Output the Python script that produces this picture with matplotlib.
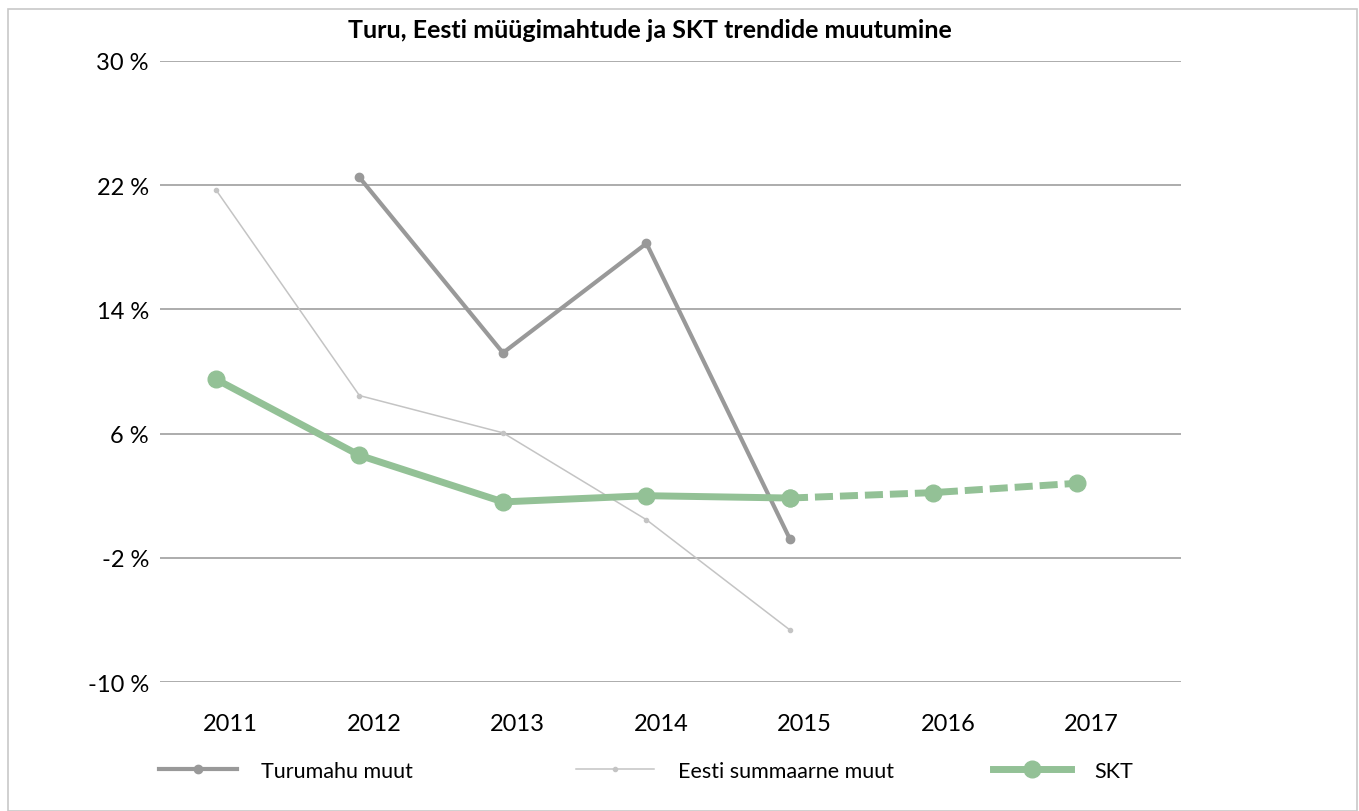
import numpy as np
import matplotlib
matplotlib.use('Agg')
from matplotlib import pyplot as plt
from matplotlib.patches import Rectangle

plt.rcParams['font.family'] = ['Lato', 'DejaVu Sans']

years = ['2011', '2012', '2013', '2014', '2015', '2016', '2017']
turumahu = [np.nan, 22.5, 11.2, 18.25, -0.8, np.nan, np.nan]
eesti = [21.7, 8.45, 6.05, 0.45, -6.65, np.nan, np.nan]
skt_actual = [9.5, 4.6, 1.6, 2.0, 1.85, np.nan, np.nan]
skt_forecast = [np.nan, np.nan, np.nan, np.nan, 1.85, 2.2, 2.8]
yticks = [-10, -2, 6, 14, 22, 30]

x = np.arange(len(years))
green = '#93c196'

fig = plt.figure(figsize=(13.59, 8.12), dpi=100)
ax = fig.add_axes([160 / 1359, 1 - 683 / 812, 1021 / 1359, 621 / 812])

for v in yticks:
    ax.axhline(v, color='#a6a6a6', lw=1.3, zorder=1)

ax.plot(x, turumahu, color='#999999', lw=3, marker='o', ms=6,
        label='Turumahu muut', zorder=3)
ax.plot(x, eesti, color='#c4c4c4', lw=1.1, marker='o', ms=3,
        label='Eesti summaarne muut', zorder=3)
ax.plot(x, skt_actual, color=green, lw=5, marker='o', ms=12,
        label='SKT', zorder=4)
ax.plot(x, skt_forecast, color=green, lw=5, marker='o', ms=12,
        ls=(0, (2.6, 1)), zorder=4)

ax.set_xlim(-0.39, 6.725)
ax.set_ylim(-10, 30)
ax.set_yticks(yticks)
ax.set_yticklabels(['%d %%' % v for v in yticks], fontsize=17)
ax.set_xticks(x + 0.1)
ax.set_xticklabels(years, fontsize=17)
ax.tick_params(axis='x', length=0, pad=22)
ax.tick_params(axis='y', length=0, pad=8)
for s in ax.spines.values():
    s.set_visible(False)

fig.text(650 / 1359, 1 - 30 / 812, 'Turu, Eesti müügimahtude ja SKT trendide muutumine',
         ha='center', va='center', fontsize=18, fontweight='bold')

# legend entries placed one by one, as in the original
handles, labels = ax.get_legend_handles_labels()
legend_x = [153, 570, 987]
for h, lab, lx in zip(handles, labels, legend_x):
    fig.legend([h], [lab], loc='center left',
               bbox_to_anchor=(lx / 1359, 1 - 772 / 812),
               frameon=False, fontsize=15.5, handlelength=3.6,
               handletextpad=1.1, borderaxespad=0, borderpad=0.3)

fig.patches.append(Rectangle((8 / 1359, 0), 1349 / 1359, 1 - 10 / 812,
                             transform=fig.transFigure, fill=False,
                             edgecolor='#c8c8c8', lw=1.2))

fig.savefig('out.png', dpi=100)
